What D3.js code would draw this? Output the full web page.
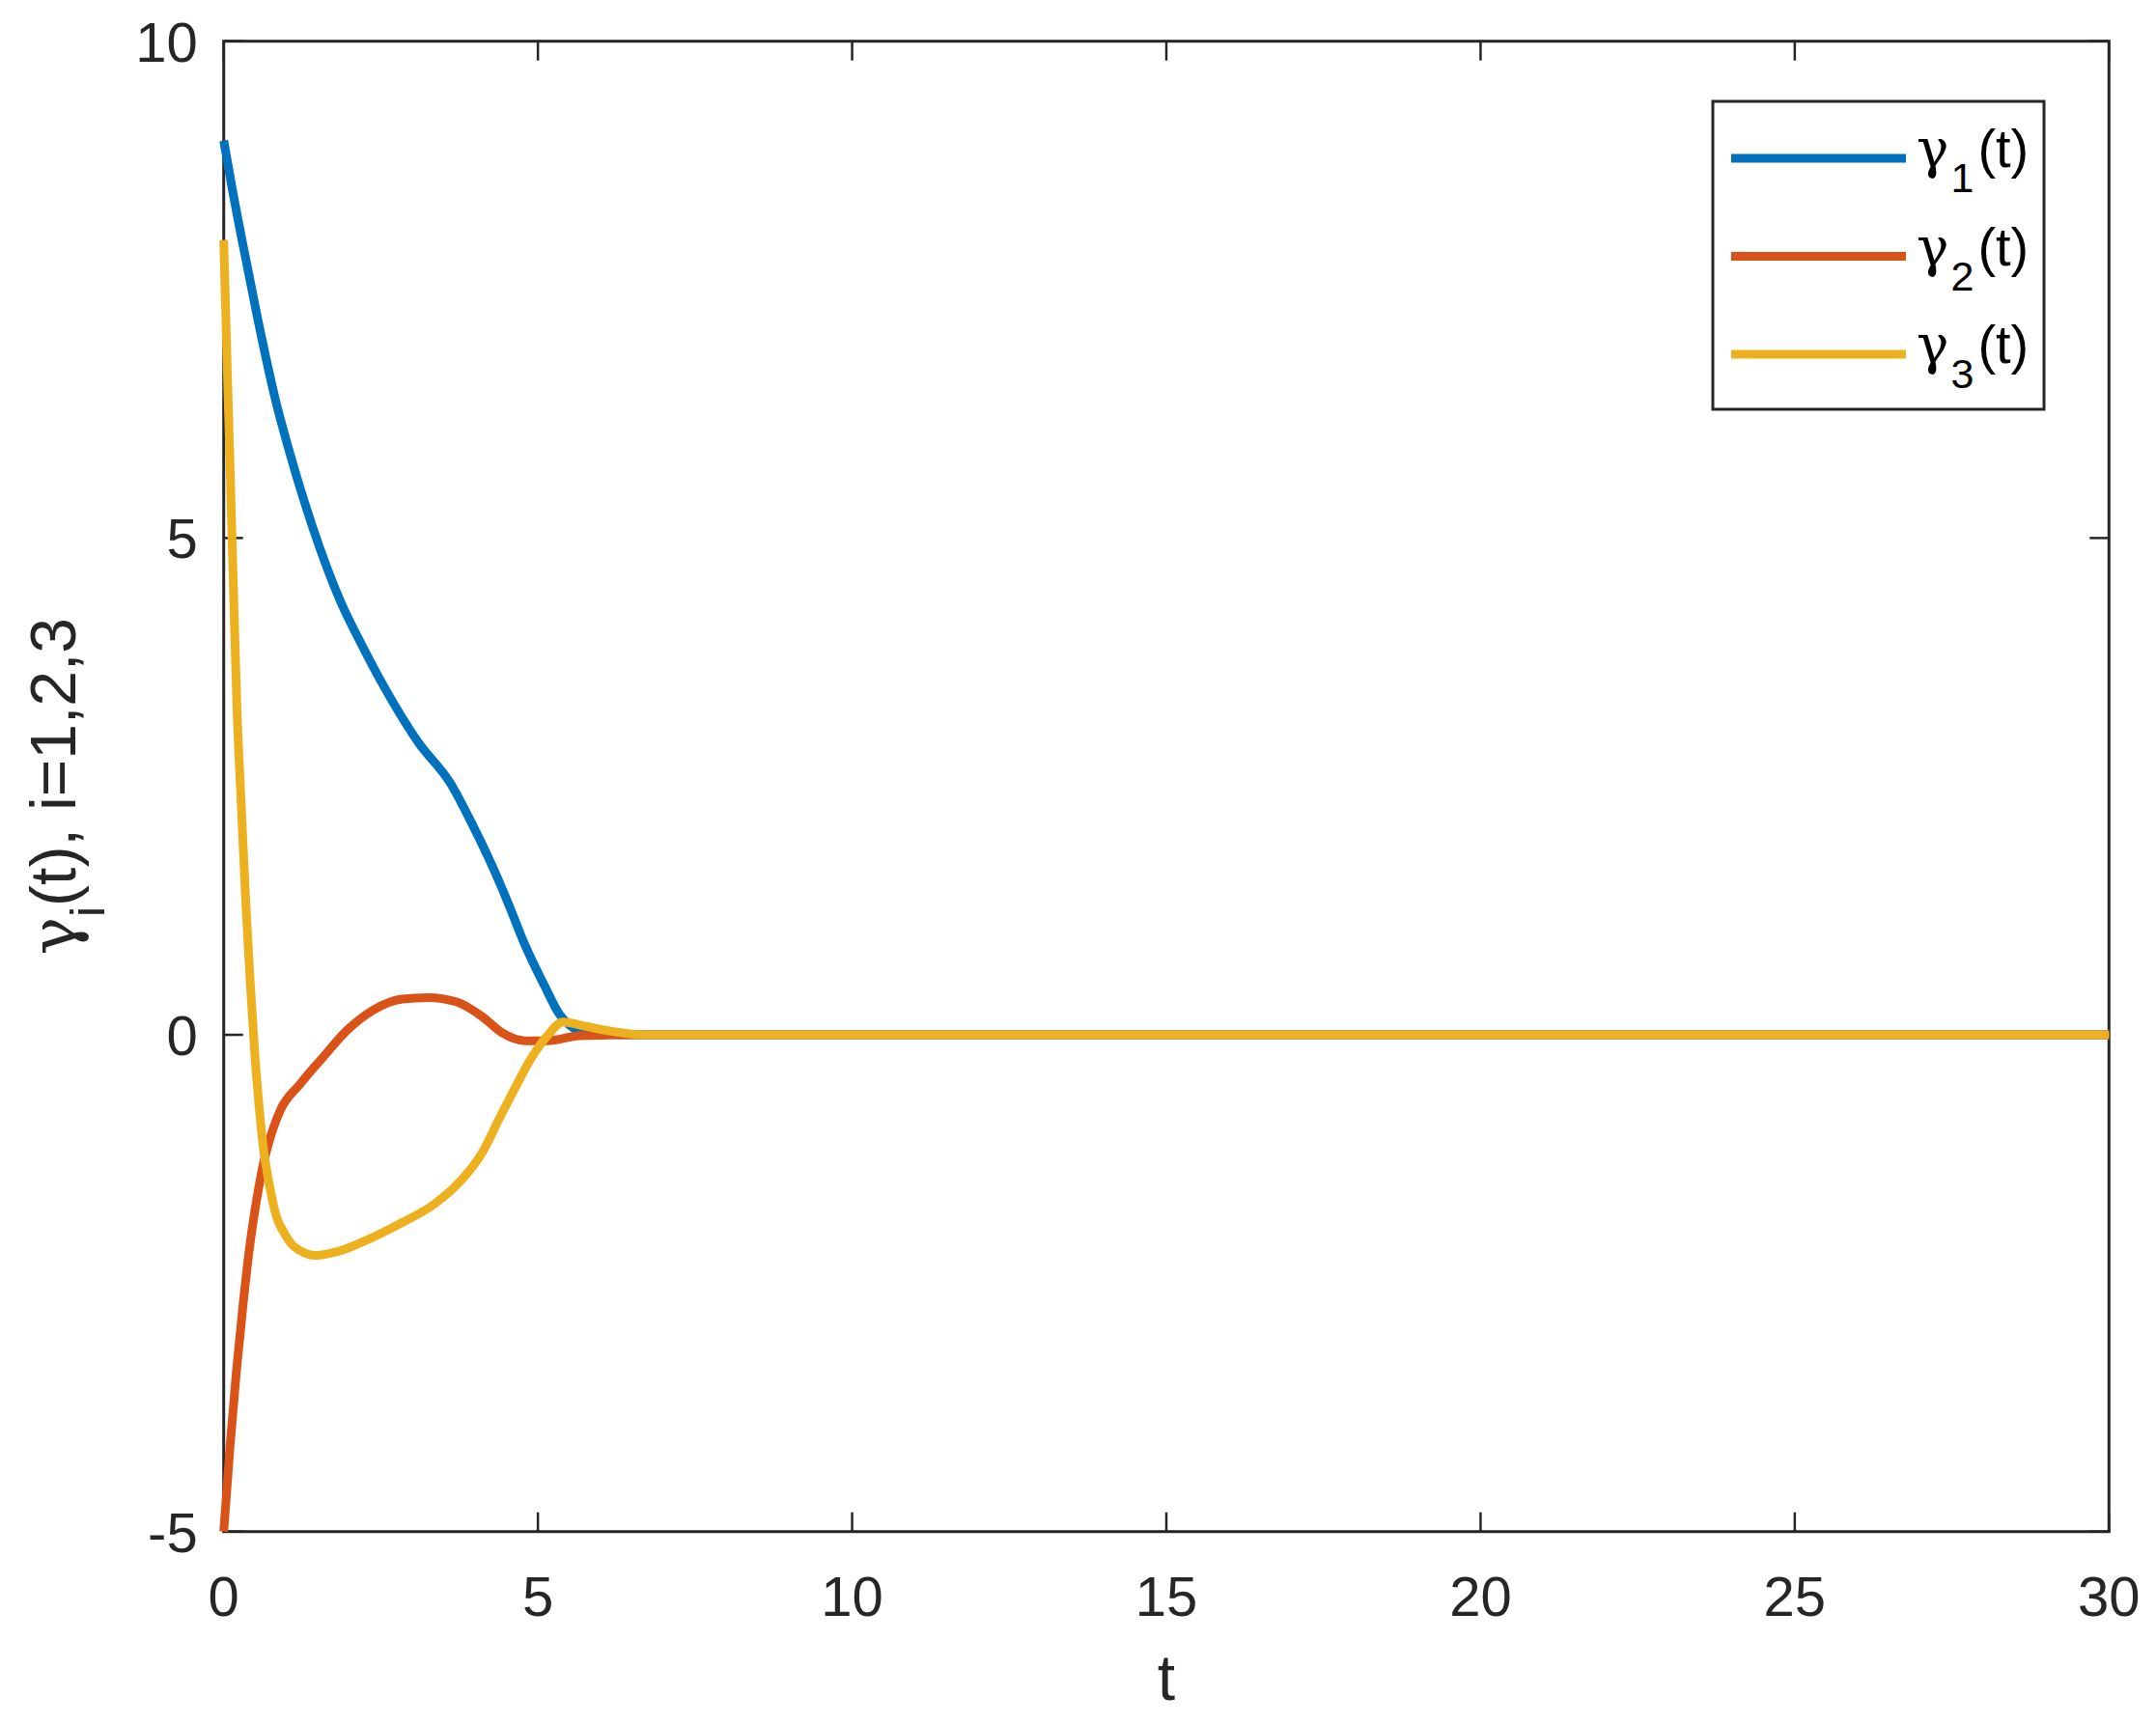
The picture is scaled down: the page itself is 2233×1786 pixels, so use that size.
<!DOCTYPE html>
<head>
  <meta charset="utf-8">
  <script src="https://d3js.org/d3.v7.min.js"></script>
  <style>
    body { margin:0; background:#fff; }
    svg { display:block; }
    text { font-family: "Liberation Sans", Arial, Helvetica, sans-serif; }
    .greek { font-family: "DejaVu Serif", serif; }
  </style>
</head>
<body>
<div id="chart"></div>
<script>

  // values
  var t1 = [0, 0.14, 0.335, 0.54, 0.82, 1.10, 1.42, 1.86, 2.2, 2.59, 3.10, 3.61, 3.97, 4.28, 4.53, 4.79, 5.10, 5.35, 5.5, 5.7, 6.0, 6.6, 30];
  var g1 = [9.0, 8.50, 7.86, 7.21, 6.40, 5.75, 5.10, 4.36, 3.92, 3.46, 2.94, 2.53, 2.10, 1.69, 1.32, 0.91, 0.50, 0.20, 0.10, 0.03, 0.01, 0, 0];

  var t2 = [0, 0.1, 0.2, 0.31, 0.42, 0.54, 0.63, 0.72, 0.9, 1.21, 1.56, 1.97, 2.38, 2.84, 3.25, 3.71, 4.12, 4.43, 4.79, 5.15, 5.66, 6.6, 30];
  var g2 = [-5.0, -4.15, -3.4, -2.7, -2.1, -1.6, -1.3, -1.08, -0.76, -0.5, -0.24, 0.05, 0.25, 0.36, 0.375, 0.33, 0.18, 0.02, -0.06, -0.06, -0.01, 0, 0];

  var t3 = [0, 0.05, 0.1, 0.15, 0.21, 0.28, 0.35, 0.42, 0.49, 0.56, 0.62, 0.745, 0.85, 0.95, 1.1, 1.21, 1.46, 1.82, 2.33, 2.84, 3.36, 3.77, 4.12, 4.38, 4.64, 4.89, 5.15, 5.4, 5.76, 6.17, 6.68, 30];
  var g3 = [8.0, 6.85, 5.75, 4.6, 3.3, 2.3, 1.35, 0.55, -0.15, -0.7, -1.08, -1.57, -1.85, -1.98, -2.12, -2.17, -2.22, -2.18, -2.05, -1.89, -1.70, -1.47, -1.18, -0.85, -0.53, -0.24, -0.01, 0.13, 0.085, 0.036, 0, 0];

  var xTicks = [0, 5, 10, 15, 20, 25, 30];
  var yTicks = [-5, 0, 5, 10];
  var names = ['1', '2', '3'];
  var colors = ['#0072BD', '#D95319', '#EDB120'];

  var W = 2233, H = 1786;
  var mLeft = 231.7, mRight = 2184.3, mTop = 42.7, mBottom = 1586.7;
  var ink = '#262626';

  var svg = d3.select('#chart').append('svg')
      .attr('width', W)
      .attr('height', H);

  var x = d3.scaleLinear().domain([0, 30]).range([mLeft, mRight]);
  var y = d3.scaleLinear().domain([-5, 10]).range([mBottom, mTop]);

  // box
  svg.append('rect')
      .attr('x', mLeft).attr('y', mTop)
      .attr('width', mRight - mLeft).attr('height', mBottom - mTop)
      .attr('fill', 'none').attr('stroke', ink).attr('stroke-width', 3);

  // ticks, inward on all four sides
  var tl = 20;
  var tk = svg.append('g').attr('stroke', ink).attr('stroke-width', 2.5);
  xTicks.forEach(function(d) {
    tk.append('line').attr('x1', x(d)).attr('x2', x(d)).attr('y1', mBottom).attr('y2', mBottom - tl);
    tk.append('line').attr('x1', x(d)).attr('x2', x(d)).attr('y1', mTop).attr('y2', mTop + tl);
  });
  yTicks.forEach(function(d) {
    tk.append('line').attr('y1', y(d)).attr('y2', y(d)).attr('x1', mLeft).attr('x2', mLeft + tl);
    tk.append('line').attr('y1', y(d)).attr('y2', y(d)).attr('x1', mRight).attr('x2', mRight - tl);
  });

  svg.selectAll('.xt').data(xTicks).enter().append('text')
      .attr('x', function(d) { return x(d); })
      .attr('y', mBottom + 87)
      .attr('text-anchor', 'middle')
      .attr('font-size', 58).attr('fill', ink)
      .text(function(d) { return d; });

  svg.selectAll('.yt').data(yTicks).enter().append('text')
      .attr('x', mLeft - 27)
      .attr('y', function(d) { return y(d) + 21; })
      .attr('text-anchor', 'end')
      .attr('font-size', 58).attr('fill', ink)
      .text(function(d) { return d; });

  // axis labels
  svg.append('text')
      .attr('x', (mLeft + mRight) / 2).attr('y', 1761)
      .attr('text-anchor', 'middle')
      .attr('font-size', 66).attr('fill', ink)
      .text('t');

  var yl = svg.append('text')
      .attr('transform', 'translate(78,' + ((mTop + mBottom) / 2) + ') rotate(-90)')
      .attr('text-anchor', 'middle')
      .attr('font-size', 66).attr('fill', ink);
  yl.append('tspan').attr('class', 'greek').text('γ');
  yl.append('tspan').attr('font-size', 50).attr('dy', 30).text('i');
  yl.append('tspan').attr('dy', -30).text('(t), i=1,2,3');

  // curves
  var line = d3.line()
      .x(function(d) { return x(d[0]); })
      .y(function(d) { return y(d[1]); })
      .curve(d3.curveMonotoneX);

  var series = [d3.zip(t1, g1), d3.zip(t2, g2), d3.zip(t3, g3)];
  series.forEach(function(s, i) {
    svg.append('path')
        .attr('d', line(s))
        .attr('fill', 'none')
        .attr('stroke', colors[i])
        .attr('stroke-width', 9)
        .attr('stroke-linejoin', 'round');
  });

  // legend
  var lg = svg.append('g');
  lg.append('rect')
      .attr('x', 1774).attr('y', 105)
      .attr('width', 2117 - 1774).attr('height', 424 - 105)
      .attr('fill', '#fff').attr('stroke', ink).attr('stroke-width', 3);

  names.forEach(function(n, i) {
    var ly = 164 + i * 101.5;
    lg.append('line')
        .attr('x1', 1793).attr('x2', 1974)
        .attr('y1', ly).attr('y2', ly)
        .attr('stroke', colors[i]).attr('stroke-width', 9);
    var tx = lg.append('text')
        .attr('x', 1985).attr('y', ly + 9)
        .attr('font-size', 56).attr('fill', '#000');
    tx.append('tspan').attr('class', 'greek').text('γ');
    tx.append('tspan').attr('font-size', 43).attr('dy', 26).attr('dx', 2).text(n);
    tx.append('tspan').attr('dy', -26).attr('dx', 4).text('(t)');
  });

</script>
</body>
